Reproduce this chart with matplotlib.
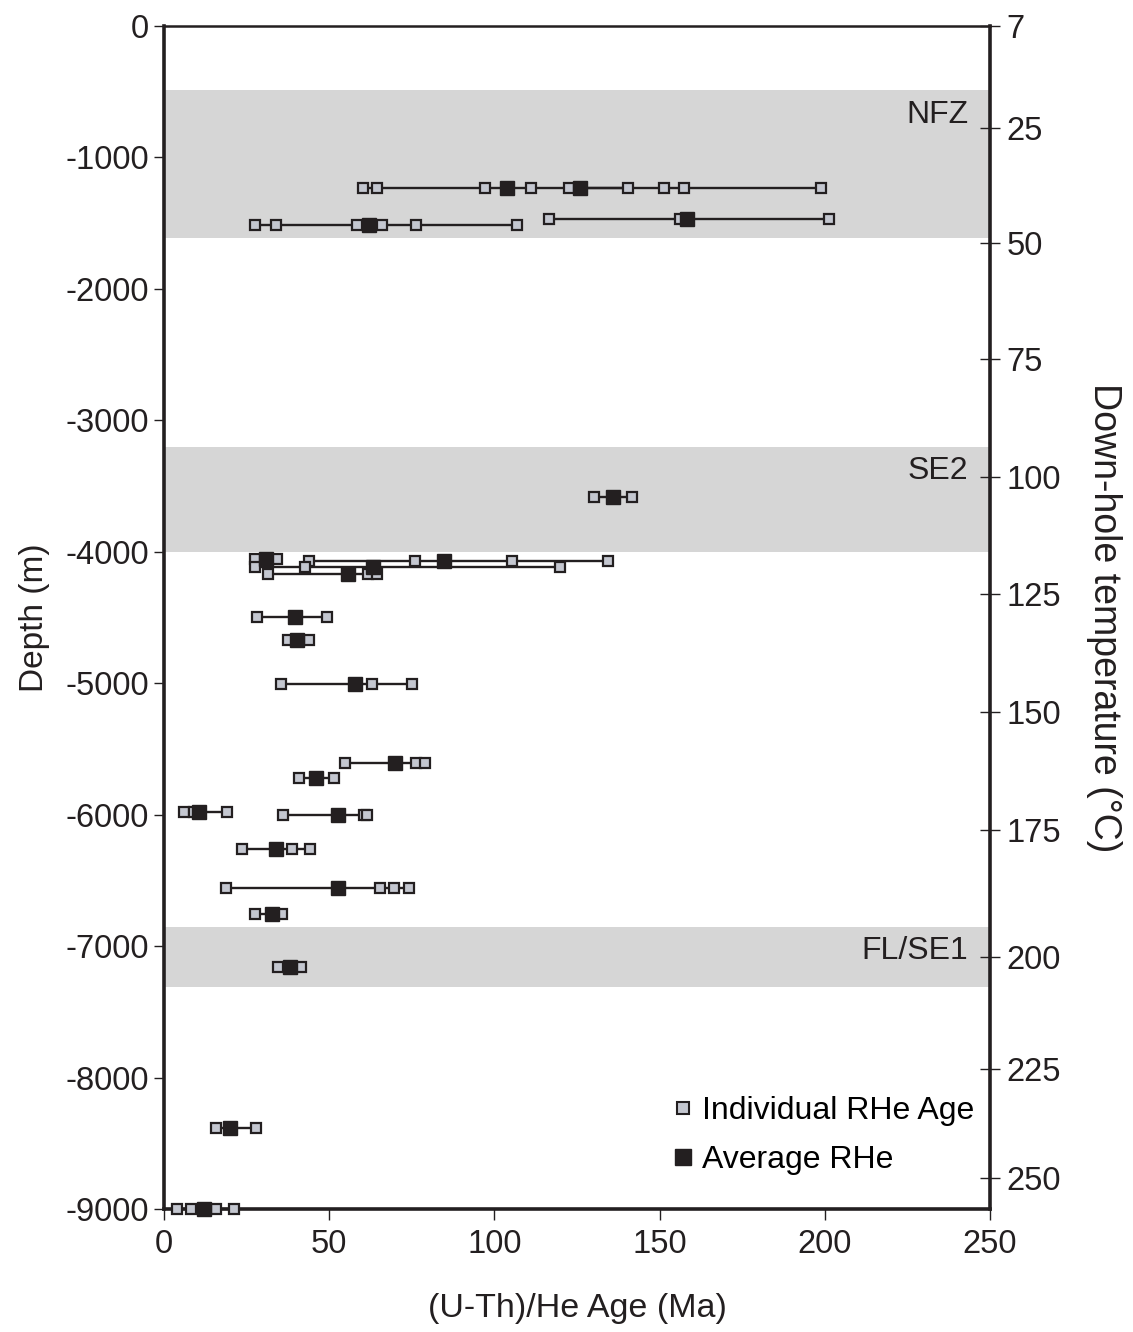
import numpy as np
import matplotlib.pyplot as plt
from matplotlib.lines import Line2D

plt.rcParams["font.family"] = ["Liberation Sans", "DejaVu Sans"]
plt.rcParams["axes.unicode_minus"] = False

# sample depths (m) with individual and average (U-Th)/He ages (Ma)
sample_depth = [-1234, -1234, -1513, -1468, -3579, -4050, -4066, -4115, -4170,
                -4492, -4669, -5006, -5607, -5721, -5975, -6000, -6259, -6557,
                -6753, -7154, -8382, -9000]
sample_ages = [
    [60.3, 64.5, 97.1, 111.0, 140.3],
    [122.6, 151.4, 157.4, 199.0],
    [27.5, 33.8, 58.3, 65.9, 76.2, 106.7],
    [116.6, 156.1, 201.2],
    [130.1, 141.8],
    [27.5, 34.1],
    [44.0, 76.1, 105.3, 134.4],
    [27.5, 42.7, 119.8],
    [31.6, 61.8, 64.4],
    [28.2, 49.2],
    [37.4, 43.9],
    [35.4, 63.0, 75.1],
    [54.8, 76.2, 79.0],
    [41.0, 51.4],
    [6.1, 9.0, 19.2],
    [35.9, 60.5, 61.5],
    [23.5, 38.9, 44.2],
    [18.8, 65.4, 69.7, 74.1],
    [27.5, 35.6],
    [34.6, 41.5],
    [15.7, 28.0],
    [4.0, 8.1, 15.9, 21.2],
]
sample_mean = [103.7, 125.9, 62.1, 158.2, 135.9, 30.9, 84.8, 63.3, 55.8,
               39.6, 40.4, 57.8, 69.9, 46.0, 10.7, 52.7, 33.8, 52.7,
               32.8, 38.1, 20.0, 12.2]

# shaded zones (top, bottom depth)
zone_names = ["NFZ", "SE2", "FL/SE1"]
zone_top = [-490, -3200, -6850]
zone_bottom = [-1610, -4000, -7310]

# down-hole temperature scale on the right axis
temp_labels = ["7", "25", "50", "75", "100", "125", "150", "175", "200", "225", "250"]
temp_depth = [0, -778, -1652, -2532, -3430, -4319, -5217, -6114, -7080, -7932, -8760]

dark = "#231f20"
fig = plt.figure(figsize=(11.33, 13.32), dpi=100)
ax = fig.add_axes([0.1447, 0.092, 0.7291, 0.8885])

for name, top, bot in zip(zone_names, zone_top, zone_bottom):
    ax.axhspan(bot, top, color="#d6d6d6", lw=0, zorder=0)
    ax.text(243.5, top - 185, name, ha="right", va="center", fontsize=23, color=dark)

for d, ages, m in zip(sample_depth, sample_ages, sample_mean):
    ax.plot([min(ages), max(ages)], [d, d], color=dark, lw=1.7, zorder=2, clip_on=False)
    ax.plot(ages, [d] * len(ages), ls="none", marker="s", ms=7.5, mfc="#c4c7d0",
            mec=dark, mew=1.6, zorder=3, clip_on=False)
    ax.plot([m], [d], ls="none", marker="s", ms=10.5, mfc=dark, mec=dark,
            zorder=4, clip_on=False)

ax.set_xlim(0, 250)
ax.set_ylim(-9000, 0)
ax.set_xticks(np.arange(0, 251, 50))
ax.set_yticks(np.arange(-9000, 1, 1000))
ax.tick_params(axis="y", direction="out", length=7, width=1, pad=4,
               labelsize=23.5, colors=dark)
ax.tick_params(axis="x", direction="out", length=8, width=1, pad=6,
               labelsize=23.5, colors=dark)
for s in ["left", "bottom", "right"]:
    ax.spines[s].set_linewidth(2.6)
    ax.spines[s].set_color(dark)
ax.spines["top"].set_linewidth(1.8)
ax.spines["top"].set_color(dark)
ax.set_xlabel("(U-Th)/He Age (Ma)", fontsize=24.5, color=dark, labelpad=24)
ax.set_ylabel("Depth (m)", fontsize=24, color=dark, labelpad=11)

ax2 = ax.twinx()
ax2.set_ylim(-9000, 0)
ax2.set_yticks(temp_depth)
ax2.set_yticklabels(temp_labels)
ax2.tick_params(axis="y", direction="inout", length=14, width=1, pad=5,
                labelsize=23.5, colors=dark)
for s in ax2.spines.values():
    s.set_visible(False)
ax2.set_ylabel("Down-hole temperature (\u00b0C)", fontsize=27, color=dark,
               rotation=270, labelpad=44)

handles = [
    Line2D([], [], ls="none", marker="s", ms=9, mfc="#c4c7d0", mec=dark, mew=1.5),
    Line2D([], [], ls="none", marker="s", ms=11, mfc=dark, mec=dark),
]
ax.legend(handles, ["Individual RHe Age", "Average RHe"], loc="lower right",
          bbox_to_anchor=(0.996, 0.018), frameon=False, fontsize=23,
          handletextpad=0.1, handlelength=1.0, labelspacing=0.6, borderaxespad=0)

fig.savefig("out.png")
